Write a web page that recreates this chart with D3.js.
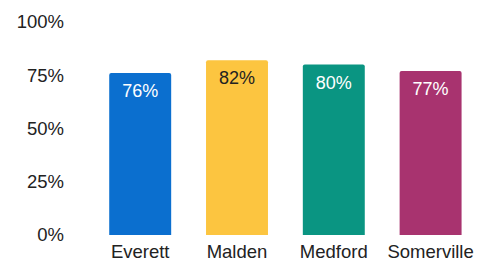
<!DOCTYPE html>
<html><head><meta charset="utf-8">
<script src="https://cdn.jsdelivr.net/npm/d3@7"></script>
<style>html,body{margin:0;padding:0;background:#fff;}svg{display:block;}</style>
</head><body>
<svg id="chart" width="477" height="262"></svg>
<script>
const categories = ["Everett", "Malden", "Medford", "Somerville"];
const values = [76, 82, 80, 77];
const colors = ["#0b6fcf", "#fcc540", "#0a9582", "#a8336f"];
const labelColors = ["#ffffff", "#222222", "#ffffff", "#ffffff"];
const yTicks = [0, 25, 50, 75, 100];

const svg = d3.select("#chart");
const font = "'Liberation Sans', Arial, sans-serif";
const x = d3.scaleBand().domain(categories).range([91.8, 479]).paddingInner(0.36).paddingOuter(0.18);
const y = d3.scaleLinear().domain([0, 100]).range([235, 22]);

// y axis labels
svg.append("g").selectAll("text").data(yTicks).join("text")
  .attr("x", 64).attr("y", d => y(d)).attr("dy", "0.35em")
  .attr("text-anchor", "end").attr("font-family", font).attr("font-size", 18.5)
  .attr("fill", "#222").text(d => d + "%");

// bars with rounded tops
const r = 2;
svg.append("g").selectAll("path").data(categories).join("path")
  .attr("d", (c, i) => {
    const x0 = x(c), w = x.bandwidth(), y0 = y(values[i]), y1 = y(0);
    return `M${x0},${y1}V${y0 + r}Q${x0},${y0} ${x0 + r},${y0}H${x0 + w - r}Q${x0 + w},${y0} ${x0 + w},${y0 + r}V${y1}Z`;
  })
  .attr("fill", (c, i) => colors[i]);

// value labels
svg.append("g").selectAll("text").data(categories).join("text")
  .attr("x", c => x(c) + x.bandwidth() / 2)
  .attr("y", (c, i) => y(values[i]) + 24)
  .attr("text-anchor", "middle").attr("font-family", font).attr("font-size", 18)
  .attr("fill", (c, i) => labelColors[i]).text((c, i) => values[i] + "%");

// category labels
svg.append("g").selectAll("text").data(categories).join("text")
  .attr("x", c => x(c) + x.bandwidth() / 2).attr("y", 258)
  .attr("text-anchor", "middle").attr("font-family", font).attr("font-size", 18.5)
  .attr("fill", "#222").text(c => c);
</script>
</body></html>
